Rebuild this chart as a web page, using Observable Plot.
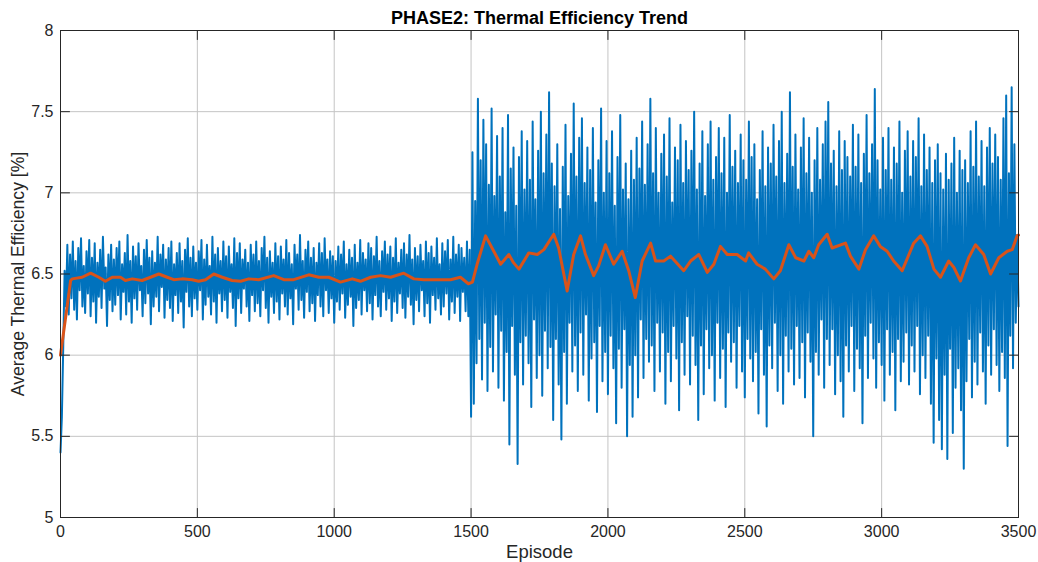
<!DOCTYPE html>
<html>
<head>
<meta charset="utf-8">
<script src="https://cdn.jsdelivr.net/npm/d3@7"></script>
<script src="https://cdn.jsdelivr.net/npm/@observablehq/plot@0.6"></script>
<style>
  html, body { margin: 0; padding: 0; background: #fff; }
  #chart svg { display: block; }
</style>
</head>
<body>
<div id="chart"></div>
<script>
// ---- Data ----
const titleText = "PHASE2: Thermal Efficiency Trend";
const xLabel = "Episode";
const yLabel = "Average Thermal Efficiency [%]";
const xTicks = [0, 500, 1000, 1500, 2000, 2500, 3000, 3500];
const yTicks = [5, 5.5, 6, 6.5, 7, 7.5, 8];

// raw per-episode efficiency, sampled every 5 episodes (episode 0 .. 3500)
const rawStep = 5;
const rawValues = [
  // phase 1 (0-1495)
  5.40,5.62,6.05,6.52,6.30,6.68,6.25,6.62,6.35,6.70,6.28,6.58,6.22,6.66,6.40,6.72,6.30,6.55,6.26,6.64,
  6.38,6.71,6.24,6.60,6.33,6.69,6.20,6.57,6.36,6.65,6.29,6.73,6.41,6.54,6.18,6.62,6.34,6.68,6.27,6.59,
  6.31,6.66,6.37,6.70,6.22,6.56,6.39,6.63,6.25,6.74,6.33,6.58,6.20,6.67,6.35,6.61,6.28,6.69,6.40,6.55,
  6.24,6.65,6.32,6.71,6.38,6.60,6.19,6.64,6.30,6.57,6.36,6.73,6.27,6.62,6.42,6.68,6.23,6.59,6.34,6.66,
  6.29,6.70,6.21,6.56,6.37,6.63,6.26,6.69,6.33,6.58,6.17,6.65,6.39,6.72,6.30,6.60,6.24,6.67,6.35,6.57,
  6.28,6.64,6.40,6.71,6.22,6.59,6.31,6.68,6.36,6.55,6.25,6.73,6.33,6.62,6.20,6.66,6.38,6.58,6.27,6.70,
  6.34,6.61,6.23,6.67,6.39,6.56,6.29,6.72,6.18,6.63,6.35,6.69,6.26,6.59,6.41,6.65,6.30,6.57,6.21,6.68,
  6.37,6.62,6.27,6.70,6.32,6.58,6.24,6.66,6.40,6.73,6.29,6.60,6.20,6.64,6.36,6.57,6.26,6.69,6.33,6.61,
  6.22,6.67,6.38,6.59,6.30,6.71,6.25,6.63,6.35,6.56,6.19,6.68,6.41,6.62,6.28,6.74,6.34,6.58,6.23,6.65,
  6.39,6.70,6.27,6.60,6.32,6.66,6.21,6.57,6.37,6.69,6.30,6.63,6.24,6.72,6.40,6.59,6.26,6.64,6.35,6.61,
  6.20,6.58,6.33,6.67,6.28,6.62,6.38,6.70,6.23,6.56,6.31,6.65,6.36,6.60,6.18,6.68,6.29,6.57,6.34,6.71,
  6.25,6.63,6.40,6.59,6.27,6.69,6.32,6.66,6.22,6.61,6.37,6.73,6.30,6.58,6.24,6.64,6.39,6.70,6.28,6.62,
  6.35,6.67,6.21,6.60,6.33,6.72,6.26,6.57,6.38,6.65,6.29,6.69,6.23,6.62,6.36,6.74,6.31,6.59,6.19,6.66,
  6.34,6.61,6.27,6.68,6.40,6.58,6.24,6.70,6.32,6.63,6.20,6.67,6.37,6.60,6.28,6.72,6.35,6.56,6.25,6.69,
  6.30,6.64,6.38,6.71,6.22,6.59,6.33,6.73,6.26,6.62,6.36,6.68,6.21,6.66,6.39,6.60,6.27,6.70,6.24,6.65,
  // phase 2 (1500-3495)
  5.62,7.25,5.70,6.95,5.95,7.58,6.10,7.20,5.85,7.45,6.20,7.30,5.78,7.05,6.05,7.52,5.90,6.98,6.25,7.35,
  5.80,7.10,6.15,7.40,5.72,6.88,6.02,7.48,5.45,7.15,6.18,7.28,5.88,6.92,5.33,7.22,6.08,7.38,5.82,7.02,
  6.12,7.32,5.95,7.08,5.68,7.44,6.22,6.96,5.86,7.26,6.00,7.50,5.75,7.12,6.15,7.36,5.92,7.62,6.05,7.18,
  5.60,7.04,6.10,7.30,5.82,6.90,5.48,7.16,6.02,7.42,5.70,6.98,6.20,7.24,5.90,7.55,6.06,7.10,5.78,7.34,
  6.14,7.46,5.88,7.06,6.25,7.28,5.72,7.14,5.98,7.40,6.08,6.94,5.65,7.20,6.18,7.52,5.84,7.00,6.02,7.32,
  5.76,7.12,6.12,7.38,5.92,6.92,5.58,7.22,6.04,7.48,5.80,7.02,6.16,7.18,5.50,6.96,5.94,7.26,5.62,7.08,
  6.00,7.34,5.74,7.15,6.22,7.44,5.86,7.05,6.10,7.30,5.96,7.58,6.06,7.12,5.78,7.40,6.20,7.00,5.90,7.24,
  6.14,7.36,5.70,7.10,6.02,7.46,5.84,6.94,6.18,7.28,5.98,7.20,5.66,7.42,6.08,7.06,5.88,7.32,6.24,7.14,
  5.82,7.26,6.12,7.50,5.94,7.02,5.60,7.18,6.06,7.38,5.76,6.98,6.16,7.30,5.92,7.44,6.00,7.08,5.72,7.22,
  6.20,7.40,5.86,7.12,6.04,7.34,5.68,7.00,6.14,7.48,5.96,7.16,6.08,7.26,5.80,7.06,6.18,7.36,5.90,7.20,
  5.74,7.08,6.10,7.44,5.98,7.22,5.84,7.30,6.02,6.96,5.64,7.14,6.16,7.38,5.88,7.04,5.56,7.28,6.06,7.18,
  5.92,7.42,6.20,7.10,5.78,7.32,6.00,7.50,5.70,7.06,6.12,7.24,5.90,7.62,6.04,7.16,5.82,7.36,6.18,7.02,
  5.86,7.28,6.08,7.46,5.74,7.12,6.14,7.34,5.96,7.00,5.50,7.20,6.02,7.40,5.88,7.08,6.22,7.30,5.80,7.44,
  6.10,7.56,5.94,7.18,6.16,7.26,5.76,7.04,6.00,7.38,5.84,7.14,5.62,7.32,6.06,7.22,5.90,7.10,6.18,7.42,
  5.78,7.16,6.04,7.36,5.92,7.06,5.58,7.24,6.12,7.48,5.86,7.12,6.20,7.30,5.98,7.64,5.80,7.20,6.08,7.02,
  5.94,7.34,5.72,7.14,6.16,7.40,5.88,7.08,6.02,7.28,5.66,7.18,6.10,7.44,5.84,7.00,5.96,7.26,6.14,7.38,
  5.82,7.10,6.06,7.32,5.90,7.22,6.18,7.46,5.76,7.04,6.00,7.36,5.86,7.14,6.12,7.28,5.70,7.06,5.46,7.20,
  5.98,7.30,5.60,7.12,5.42,7.02,5.88,7.24,5.36,7.08,6.04,7.18,5.52,7.34,5.80,7.00,5.92,7.26,5.66,7.14,
  5.30,7.20,5.84,7.06,6.10,7.38,5.74,7.16,5.96,7.44,5.82,7.10,6.14,7.32,5.90,7.04,5.70,7.28,6.06,7.40,
  5.88,7.18,6.16,7.36,5.94,7.22,5.78,7.08,6.02,7.46,5.86,7.60,5.44,7.12,6.12,7.65,5.92,7.30,6.20,6.74,
  6.30
];

// moving-average trend (orange)
const trendEpisodes = [
  0, 37, 43, 79, 110, 140, 164, 189, 219, 237, 262, 298, 329, 359, 390, 414, 444, 481, 505, 530,
  560, 591, 627, 658, 688, 724, 779, 816, 852, 907, 944, 980, 1023, 1066, 1096, 1133, 1169, 1206, 1254, 1291,
  1327, 1376, 1425, 1461, 1490, 1505, 1522, 1553, 1583, 1608, 1638, 1655, 1675, 1711, 1742, 1766, 1802, 1820, 1851, 1875,
  1900, 1918, 1948, 1966, 1991, 2021, 2052, 2076, 2100, 2125, 2156, 2174, 2204, 2229, 2277, 2302, 2332, 2363, 2387, 2411,
  2436, 2472, 2503, 2514, 2545, 2575, 2606, 2630, 2661, 2686, 2716, 2734, 2752, 2770, 2801, 2819, 2868, 2886, 2917, 2941,
  2971, 2995, 3020, 3044, 3075, 3117, 3142, 3166, 3191, 3215, 3245, 3264, 3288, 3318, 3343, 3373, 3398, 3428, 3459, 3477,
  3495, 3500
];
const trendValues = [
  6.00, 6.46, 6.47, 6.48, 6.505, 6.48, 6.455, 6.48, 6.48, 6.46, 6.47, 6.46, 6.48, 6.50, 6.48, 6.465, 6.47, 6.465, 6.455, 6.465,
  6.50, 6.48, 6.46, 6.455, 6.47, 6.465, 6.49, 6.465, 6.465, 6.495, 6.48, 6.48, 6.45, 6.47, 6.455, 6.48, 6.49, 6.48, 6.505, 6.47,
  6.465, 6.465, 6.465, 6.48, 6.44, 6.45, 6.56, 6.735, 6.64, 6.56, 6.62, 6.57, 6.53, 6.63, 6.62, 6.65, 6.745, 6.66, 6.395, 6.62,
  6.735, 6.62, 6.49, 6.55, 6.68, 6.56, 6.64, 6.52, 6.355, 6.58, 6.69, 6.58, 6.58, 6.61, 6.52, 6.58, 6.62, 6.51, 6.56, 6.67,
  6.62, 6.62, 6.58, 6.63, 6.56, 6.53, 6.47, 6.52, 6.68, 6.60, 6.58, 6.64, 6.60, 6.68, 6.745, 6.66, 6.69, 6.61, 6.53, 6.65,
  6.735, 6.67, 6.64, 6.58, 6.52, 6.69, 6.735, 6.67, 6.53, 6.48, 6.58, 6.54, 6.457, 6.60, 6.68, 6.62, 6.50, 6.60, 6.64, 6.65,
  6.735, 6.74
];

// ---- Chart ----
const trend = trendEpisodes.map((e, i) => ({episode: e, value: trendValues[i]}));
const raw = rawValues.map((v, i) => ({episode: i * rawStep, value: v}));

const axisColor = "#262626";
const tickLen = 9;
const tickLine = {draw(context, l) { context.moveTo(0, 0); context.lineTo(0, -l); }};

const chart = Plot.plot({
  width: 1038,
  height: 562,
  marginLeft: 60,
  marginRight: 20,
  marginTop: 30,
  marginBottom: 45,
  style: {fontFamily: "'Liberation Sans', Arial, Helvetica, sans-serif", fontSize: "16px", color: axisColor, background: "#fff"},
  x: {domain: [0, 3500]},
  y: {domain: [5, 8]},
  marks: [
    Plot.gridX(xTicks, {stroke: "#c4c4c4", strokeOpacity: 1, strokeWidth: 1}),
    Plot.gridY(yTicks, {stroke: "#c4c4c4", strokeOpacity: 1, strokeWidth: 1}),
    Plot.line(raw, {x: "episode", y: "value", stroke: "#0072BD", strokeWidth: 2}),
    Plot.line(trend, {x: "episode", y: "value", stroke: "#D95319", strokeWidth: 3}),
    Plot.frame({stroke: axisColor, strokeWidth: 1}),
    // inward tick marks on all four sides
    Plot.vector(xTicks, {x: d => d, frameAnchor: "bottom", rotate: 0, length: tickLen, anchor: "start", shape: tickLine, stroke: axisColor, strokeWidth: 1}),
    Plot.vector(xTicks, {x: d => d, frameAnchor: "top", rotate: 180, length: tickLen, anchor: "start", shape: tickLine, stroke: axisColor, strokeWidth: 1}),
    Plot.vector(yTicks, {y: d => d, frameAnchor: "left", rotate: 90, length: tickLen, anchor: "start", shape: tickLine, stroke: axisColor, strokeWidth: 1}),
    Plot.vector(yTicks, {y: d => d, frameAnchor: "right", rotate: -90, length: tickLen, anchor: "start", shape: tickLine, stroke: axisColor, strokeWidth: 1}),
    Plot.axisX(xTicks, {anchor: "bottom", tickSize: 0, tickPadding: 8, label: null, fill: axisColor, fontSize: 16, tickFormat: d => String(d)}),
    Plot.axisY(yTicks, {anchor: "left", tickSize: 0, tickPadding: 7, label: null, fill: axisColor, fontSize: 16, tickFormat: d => String(d)}),
    Plot.text([titleText], {text: d => d, frameAnchor: "top", dy: -12, lineAnchor: "middle", fontWeight: "bold", fontSize: 18, fill: "#000"}),
    Plot.text([xLabel], {text: d => d, frameAnchor: "bottom", dy: 35, lineAnchor: "middle", fontSize: 18.5, fill: axisColor}),
    Plot.text([yLabel], {text: d => d, frameAnchor: "left", dx: -42, rotate: -90, textAnchor: "middle", lineAnchor: "middle", fontSize: 17.6, fill: axisColor})
  ]
});
document.getElementById("chart").appendChild(chart);
</script>
</body>
</html>
